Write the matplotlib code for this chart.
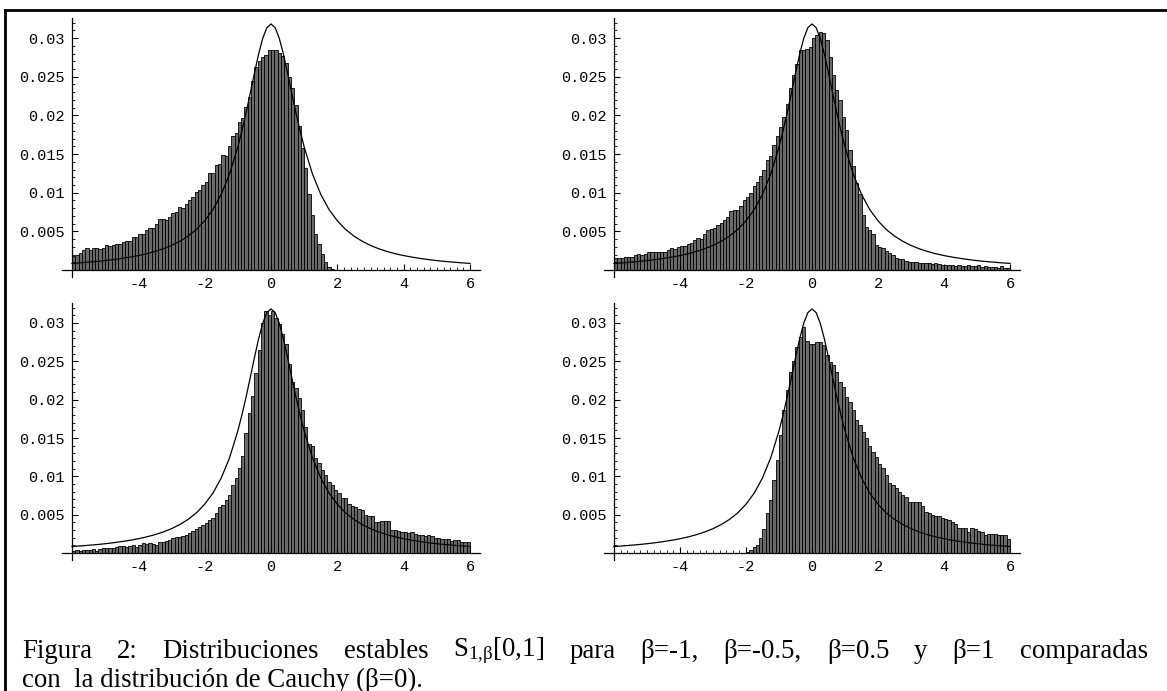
import matplotlib
matplotlib.use("Agg")
import matplotlib.pyplot as plt
from matplotlib.lines import Line2D
import numpy as np

plt.rcParams['font.family'] = ['Liberation Mono', 'DejaVu Sans Mono']
plt.rcParams['mathtext.fontset'] = 'custom'
plt.rcParams['mathtext.rm'] = 'Liberation Serif'
plt.rcParams['mathtext.it'] = 'Liberation Serif:italic'

# histogram bins: width 0.1 from -6 to 6
bin_width = 0.1
bin_left = np.round(np.arange(-6.0, 6.0, bin_width), 1)

# beta = -1
hist_beta_m1 = [
    0.0018, 0.0019, 0.0022, 0.0026, 0.0028, 0.0026, 0.0028, 0.0029, 0.0027, 0.0028,
    0.0032, 0.0031, 0.0032, 0.0034, 0.0034, 0.0036, 0.0038, 0.0038, 0.0043, 0.0043,
    0.0047, 0.0047, 0.0052, 0.0054, 0.0054, 0.0059, 0.0066, 0.0066, 0.0065, 0.0069,
    0.0074, 0.0075, 0.0082, 0.0080, 0.0086, 0.0091, 0.0095, 0.0101, 0.0104, 0.0110,
    0.0114, 0.0125, 0.0125, 0.0136, 0.0137, 0.0149, 0.0147, 0.0160, 0.0173, 0.0177,
    0.0192, 0.0197, 0.0211, 0.0224, 0.0244, 0.0263, 0.0270, 0.0276, 0.0278, 0.0284,
    0.0285, 0.0284, 0.0281, 0.0277, 0.0268, 0.0250, 0.0236, 0.0214, 0.0186, 0.0158,
    0.0132, 0.0098, 0.0071, 0.0047, 0.0034, 0.0021, 0.0010, 0.0004, 0.0001, 0.0,
    0.0, 0.0, 0.0, 0.0, 0.0, 0.0, 0.0, 0.0, 0.0, 0.0,
    0.0, 0.0, 0.0, 0.0, 0.0, 0.0, 0.0, 0.0, 0.0, 0.0,
    0.0, 0.0, 0.0, 0.0, 0.0, 0.0, 0.0, 0.0, 0.0, 0.0,
    0.0, 0.0, 0.0, 0.0, 0.0, 0.0, 0.0, 0.0, 0.0, 0.0,
]

# beta = -0.5
hist_beta_m05 = [
    0.0015, 0.0015, 0.0016, 0.0017, 0.0017, 0.0017, 0.0019, 0.0021, 0.0019, 0.0021,
    0.0023, 0.0023, 0.0023, 0.0023, 0.0023, 0.0023, 0.0026, 0.0028, 0.0027, 0.0030,
    0.0031, 0.0031, 0.0034, 0.0035, 0.0039, 0.0041, 0.0040, 0.0047, 0.0052, 0.0053,
    0.0055, 0.0058, 0.0061, 0.0065, 0.0069, 0.0077, 0.0078, 0.0078, 0.0083, 0.0091,
    0.0095, 0.0100, 0.0109, 0.0114, 0.0121, 0.0130, 0.0142, 0.0147, 0.0162, 0.0174,
    0.0185, 0.0198, 0.0215, 0.0235, 0.0252, 0.0267, 0.0284, 0.0285, 0.0286, 0.0289,
    0.0300, 0.0304, 0.0308, 0.0306, 0.0297, 0.0276, 0.0252, 0.0233, 0.0220, 0.0198,
    0.0181, 0.0155, 0.0134, 0.0112, 0.0099, 0.0071, 0.0056, 0.0052, 0.0047, 0.0033,
    0.0030, 0.0028, 0.0024, 0.0022, 0.0019, 0.0016, 0.0014, 0.0014, 0.0012, 0.0011,
    0.0011, 0.0010, 0.0009, 0.0009, 0.0009, 0.0009, 0.0008, 0.0009, 0.0008, 0.0007,
    0.0007, 0.0006, 0.0006, 0.0005, 0.0006, 0.0005, 0.0005, 0.0006, 0.0005, 0.0005,
    0.0006, 0.0004, 0.0005, 0.0004, 0.0004, 0.0004, 0.0003, 0.0005, 0.0003, 0.0003,
]

# beta = 0.5
hist_beta_p05 = [
    0.0003, 0.0004, 0.0003, 0.0004, 0.0004, 0.0004, 0.0005, 0.0003, 0.0005, 0.0006,
    0.0006, 0.0006, 0.0006, 0.0008, 0.0009, 0.0009, 0.0008, 0.0009, 0.0010, 0.0008,
    0.0011, 0.0013, 0.0012, 0.0013, 0.0012, 0.0011, 0.0014, 0.0015, 0.0016, 0.0017,
    0.0020, 0.0021, 0.0021, 0.0022, 0.0023, 0.0026, 0.0029, 0.0031, 0.0034, 0.0036,
    0.0039, 0.0043, 0.0046, 0.0052, 0.0060, 0.0063, 0.0069, 0.0076, 0.0089, 0.0098,
    0.0111, 0.0126, 0.0156, 0.0182, 0.0205, 0.0235, 0.0265, 0.0300, 0.0316, 0.0310,
    0.0316, 0.0306, 0.0299, 0.0286, 0.0273, 0.0247, 0.0223, 0.0215, 0.0202, 0.0186,
    0.0165, 0.0142, 0.0139, 0.0124, 0.0117, 0.0108, 0.0102, 0.0093, 0.0089, 0.0082,
    0.0078, 0.0072, 0.0072, 0.0064, 0.0062, 0.0060, 0.0057, 0.0056, 0.0050, 0.0048,
    0.0049, 0.0041, 0.0040, 0.0042, 0.0042, 0.0042, 0.0030, 0.0030, 0.0029, 0.0028,
    0.0028, 0.0026, 0.0027, 0.0025, 0.0023, 0.0024, 0.0022, 0.0023, 0.0022, 0.0020,
    0.0020, 0.0019, 0.0019, 0.0019, 0.0016, 0.0017, 0.0017, 0.0015, 0.0014, 0.0014,
]

# beta = 1
hist_beta_p1 = [
    0.0, 0.0, 0.0, 0.0, 0.0, 0.0, 0.0, 0.0, 0.0, 0.0,
    0.0, 0.0, 0.0, 0.0, 0.0, 0.0, 0.0, 0.0, 0.0, 0.0,
    0.0, 0.0, 0.0, 0.0, 0.0, 0.0, 0.0, 0.0, 0.0, 0.0,
    0.0, 0.0, 0.0, 0.0, 0.0, 0.0, 0.0, 0.0, 0.0, 0.0,
    0.0002, 0.0004, 0.0008, 0.0010, 0.0020, 0.0031, 0.0052, 0.0069, 0.0095, 0.0121,
    0.0154, 0.0186, 0.0212, 0.0236, 0.0251, 0.0269, 0.0282, 0.0295, 0.0277, 0.0273,
    0.0273, 0.0275, 0.0275, 0.0271, 0.0258, 0.0249, 0.0245, 0.0236, 0.0223, 0.0217,
    0.0204, 0.0197, 0.0186, 0.0173, 0.0167, 0.0158, 0.0150, 0.0140, 0.0132, 0.0125,
    0.0116, 0.0111, 0.0102, 0.0091, 0.0089, 0.0085, 0.0080, 0.0076, 0.0073, 0.0067,
    0.0067, 0.0066, 0.0066, 0.0061, 0.0054, 0.0052, 0.0050, 0.0048, 0.0049, 0.0046,
    0.0044, 0.0043, 0.0041, 0.0038, 0.0033, 0.0033, 0.0033, 0.0028, 0.0033, 0.0031,
    0.0029, 0.0027, 0.0024, 0.0025, 0.0025, 0.0025, 0.0023, 0.0023, 0.0023, 0.0019,
]

# Cauchy reference curve
cauchy_x = [-6.0, -5.75, -5.5, -5.25, -5.0, -4.75, -4.5, -4.25, -4.0, -3.75, -3.5, -3.25,
            -3.0, -2.75, -2.5, -2.25, -2.0, -1.75, -1.5, -1.25, -1.0, -0.875, -0.75,
            -0.625, -0.5, -0.375, -0.25, -0.125, 0.0, 0.125, 0.25, 0.375, 0.5, 0.625,
            0.75, 0.875, 1.0, 1.25, 1.5, 1.75, 2.0, 2.25, 2.5, 2.75, 3.0, 3.25, 3.5,
            3.75, 4.0, 4.25, 4.5, 4.75, 5.0, 5.25, 5.5, 5.75, 6.0]
cauchy_y = [0.00086, 0.00093, 0.00102, 0.00111, 0.00122, 0.00135, 0.00150, 0.00167,
            0.00187, 0.00211, 0.00240, 0.00275, 0.00318, 0.00372, 0.00439, 0.00524,
            0.00637, 0.00782, 0.00979, 0.01242, 0.01592, 0.01804, 0.02037, 0.02289,
            0.02546, 0.02792, 0.02996, 0.03135, 0.03183, 0.03135, 0.02996, 0.02792,
            0.02546, 0.02289, 0.02037, 0.01804, 0.01592, 0.01242, 0.00979, 0.00782,
            0.00637, 0.00524, 0.00439, 0.00372, 0.00318, 0.00275, 0.00240, 0.00211,
            0.00187, 0.00167, 0.00150, 0.00135, 0.00122, 0.00111, 0.00102, 0.00093,
            0.00086]

y_ticks = [0.005, 0.01, 0.015, 0.02, 0.025, 0.03]
y_tick_labels = ["0.005", "0.01", "0.015", "0.02", "0.025", "0.03"]
x_ticks = [-4, -2, 0, 2, 4, 6]
x_tick_labels = ["-4", "-2", "0", "2", "4", "6"]

caption_words = ["Figura", "2:", "Distribuciones", "estables",
                 r"S$_{\mathrm{1{,}β}}$[0,1]", "para", "β=-1,", "β=-0.5,",
                 "β=0.5", "y", "β=1", "comparadas"]
caption_line2 = "con  la distribución de Cauchy (β=0)."

W, H = 1167, 691
fig = plt.figure(figsize=(W / 100, H / 100), dpi=100)

panels = [
    (hist_beta_m1, [62, 18, 480, 277]),
    (hist_beta_m05, [604, 18, 1020, 277]),
    (hist_beta_p05, [62, 303, 480, 560]),
    (hist_beta_p1, [604, 303, 1020, 560]),
]

for heights, (x0, y0, x1, y1) in panels:
    ax = fig.add_axes([x0 / W, 1 - y1 / H, (x1 - x0) / W, (y1 - y0) / H])
    ax.patch.set_alpha(0)
    ax.bar(bin_left, heights, width=bin_width, align='edge',
           color='#6a6a6a', edgecolor='black', linewidth=0.6)
    ax.plot(cauchy_x, cauchy_y, color='black', linewidth=0.9)
    ax.set_xlim(-6.3, 6.3)
    ax.set_ylim(-0.0009, 0.0326)
    ax.spines['left'].set_position(('data', -6))
    ax.spines['bottom'].set_position(('data', 0))
    ax.spines['top'].set_visible(False)
    ax.spines['right'].set_visible(False)
    for s in ('left', 'bottom'):
        ax.spines[s].set_linewidth(0.9)
    ax.set_xticks(x_ticks)
    ax.set_xticklabels(x_tick_labels)
    ax.set_yticks(y_ticks)
    ax.set_yticklabels(y_tick_labels)
    ax.set_xticks(np.round(np.arange(-6, 6.01, 0.2), 1), minor=True)
    ax.set_yticks(np.round(np.arange(0.001, 0.0325, 0.001), 3), minor=True)
    ax.tick_params(which='major', direction='in', length=4, width=0.8,
                   labelsize=11, pad=5)
    ax.tick_params(which='minor', direction='in', length=2, width=0.6)

# frame lines (top and left)
fig.add_artist(Line2D([5 / W, 1], [1 - 10 / H, 1 - 10 / H], color='black', linewidth=2))
fig.add_artist(Line2D([5 / W, 5 / W], [0, 1 - 10 / H], color='black', linewidth=2))

# caption, first line justified
cap_size = 19.4
fig.canvas.draw()
renderer = fig.canvas.get_renderer()
texts = [fig.text(0, 1 - 651 / H, w, fontsize=cap_size, family='Liberation Serif',
                  va='center', ha='left') for w in caption_words]
widths = [t.get_window_extent(renderer).width for t in texts]
left_px, right_px = 22, 1148
gap = (right_px - left_px - sum(widths)) / (len(texts) - 1)
xpos = left_px
for t, w in zip(texts, widths):
    t.set_x(xpos / W)
    xpos += w + gap

fig.text(22 / W, 1 - 680 / H, caption_line2, fontsize=cap_size,
         family='Liberation Serif', va='center', ha='left')

fig.savefig("out.png", dpi=100)
